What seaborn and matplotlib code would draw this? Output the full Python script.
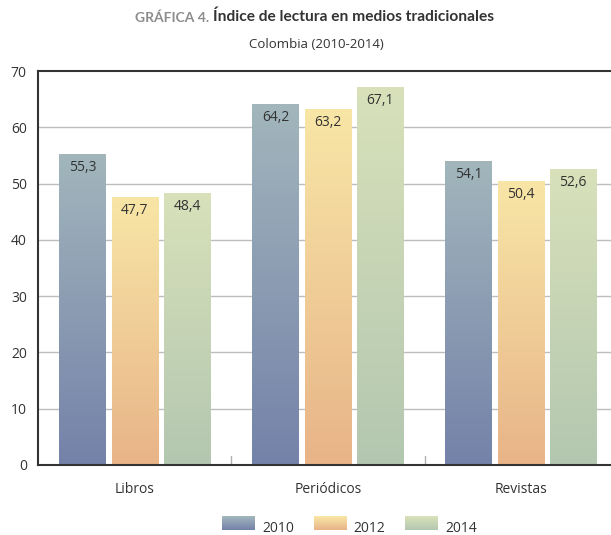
import numpy as np
import pandas as pd
import matplotlib
matplotlib.use("Agg")
import matplotlib.pyplot as plt
import matplotlib.colors as mcolors
from matplotlib.patches import Rectangle
from matplotlib.legend_handler import HandlerBase
import seaborn as sns

# Datos
categorias = ["Libros", "Periódicos", "Revistas"]
anios = ["2010", "2012", "2014"]
valores_2010 = [55.3, 64.2, 54.1]
valores_2012 = [47.7, 63.2, 50.4]
valores_2014 = [48.4, 67.1, 52.6]
yticks = [0, 10, 20, 30, 40, 50, 60, 70]

# degradado (arriba, abajo) por año
colores = {
    "2010": ("#a2b6bc", "#7482a9"),
    "2012": ("#f8e6a6", "#e8b488"),
    "2014": ("#d8e1ba", "#b3c7b0"),
}

df = pd.DataFrame({
    "categoria": categorias * 3,
    "anio": [a for a in anios for _ in categorias],
    "valor": valores_2010 + valores_2012 + valores_2014,
})

sns.set_theme(style="white")
plt.rcParams["font.family"] = ["Open Sans", "DejaVu Sans"]

fig = plt.figure(figsize=(6.11, 5.35), dpi=100)
ax = fig.add_axes([0.062, 0.131, 0.938, 0.736])

paleta = {a: colores[a][1] for a in anios}
sns.barplot(ax=ax, data=df, x="categoria", y="valor", hue="anio", order=categorias,
            hue_order=anios, palette=paleta, width=0.81, gap=0.1, legend=False,
            saturation=1, zorder=2)

# degradados dentro de cada barra
for i, anio in enumerate(anios):
    cmap = mcolors.LinearSegmentedColormap.from_list(anio, [colores[anio][1], colores[anio][0]])
    for j in range(len(categorias)):
        p = ax.patches[i * len(categorias) + j]
        x0, w, h = p.get_x(), p.get_width(), p.get_height()
        grad = np.linspace(0, 1, 256).reshape(-1, 1)
        im = ax.imshow(grad, extent=[x0, x0 + w, 0, h], origin="lower", cmap=cmap,
                       aspect="auto", zorder=2, interpolation="bilinear")
        im.set_clip_path(p)
        p.set_facecolor("none")
        p.set_edgecolor("none")
        v = df[(df.anio == anio) & (df.categoria == categorias[j])].valor.iloc[0]
        ax.text(x0 + w / 2, h - 2.4, f"{v:.1f}".replace(".", ","), ha="center", va="center",
                fontsize=10, color="#333333", zorder=3)

ax.set_xlim(-0.503, 2.466)
ax.set_ylim(0, 70)
ax.set_yticks(yticks)
ax.set_yticklabels([str(t) for t in yticks], fontsize=10, color="#333333")
ax.tick_params(axis="y", length=0, pad=8)
ax.tick_params(axis="x", length=0, pad=12, labelsize=10, labelcolor="#333333")
ax.set_xlabel("")
ax.set_ylabel("")
for y in yticks[1:-1]:
    ax.axhline(y, color="#bdbdbd", lw=1, zorder=1)
for xb in [0.5, 1.5]:
    ax.plot([xb, xb], [0, 1.5], color="#b0b0b0", lw=1, zorder=1)

for s in ["left", "top", "bottom"]:
    ax.spines[s].set_color("#333333")
    ax.spines[s].set_linewidth(1.5)
ax.spines["right"].set_visible(False)


class GradHandler(HandlerBase):
    def create_artists(self, legend, orig, xd, yd, width, height, fontsize, trans):
        top, bot = orig.grad
        cmap = mcolors.LinearSegmentedColormap.from_list("g", [bot, top])
        n = 14
        arts = []
        for k in range(n):
            r = Rectangle((xd, yd + height * k / n), width, height / n + 0.3,
                          facecolor=cmap(k / (n - 1)), edgecolor="none", transform=trans)
            arts.append(r)
        return arts


handles = []
for a in anios:
    r = Rectangle((0, 0), 1, 1)
    r.grad = colores[a]
    handles.append(r)
fig.legend(handles, anios, handler_map={Rectangle: GradHandler()}, loc="center",
           bbox_to_anchor=(0.572, 0.013), ncol=3, frameon=False, fontsize=10,
           handlelength=2.4, handleheight=1.1, handletextpad=0.5, columnspacing=1.4,
           labelcolor="#333333")

# Títulos
t1 = fig.text(0.221, 0.967, "GRÁFICA 4.", fontsize=10, weight="bold", color="#8c8c8c",
              ha="left", va="center", family=["Lato", "DejaVu Sans"])
fig.canvas.draw()
bb = t1.get_window_extent()
fig.text(bb.x1 / fig.bbox.width + 0.006, 0.969, "Índice de lectura en medios tradicionales",
         fontsize=11.2, weight="bold", color="#333333", ha="left", va="center",
         family=["Lato", "DejaVu Sans"])
fig.text(0.518, 0.917, "Colombia (2010-2014)", fontsize=9.5, color="#333333",
         ha="center", va="center")

fig.savefig("out.png", dpi=100)
